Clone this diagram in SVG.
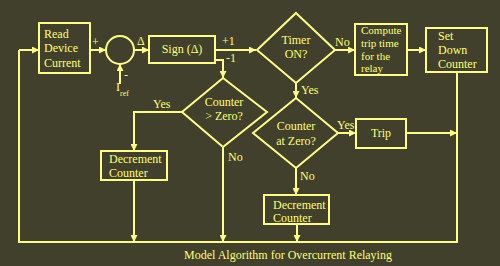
<svg xmlns="http://www.w3.org/2000/svg" width="500" height="266" viewBox="0 0 500 266">
<defs>
<marker id="ah" viewBox="0 0 10 10" refX="10" refY="5" markerWidth="7" markerHeight="7" markerUnits="userSpaceOnUse" orient="auto">
<path d="M0,0 L10,5 L0,10 z" fill="#ffff88"/>
</marker>
<style>
.bx{fill:none;stroke:#ffff88;stroke-width:2}
.ln{fill:none;stroke:#ffff88;stroke-width:2}
.ar{fill:none;stroke:#ffff88;stroke-width:2;marker-end:url(#ah)}
.t{font-family:'Liberation Serif','Times New Roman',serif;font-size:12px;fill:#ffff70}
.m{text-anchor:middle}
.s{font-size:11px}
</style>
</defs>
<rect width="500" height="266" fill="#40402c"/>
<g id="connectors">
<path class="ar" d="M90,50 L106,50"/>
<path class="ar" d="M134,50 L149,50"/>
<path class="ar" d="M120,84 L120,64"/>
<path class="ar" d="M215,50 L256,50"/>
<path class="ar" d="M215,60 L223,60 L223,78"/>
<path class="ar" d="M335,50 L355,50"/>
<path class="ar" d="M407,50 L426,50"/>
<path class="ar" d="M296,83 L296,98"/>
<path class="ar" d="M182,112 L134,112 L134,151"/>
<path class="ar" d="M134,180 L134,242"/>
<path class="ar" d="M223,147 L223,242"/>
<path class="ar" d="M338,133 L356,133"/>
<path class="ar" d="M406,133 L457,133"/>
<path class="ar" d="M296,168 L296,195"/>
<path class="ar" d="M297,224 L297,242"/>
<path class="ln" d="M457,72 L457,242 L19,242 L19,50"/>
<path class="ar" d="M19,50 L39,50"/>
</g>
<g class="t" font-family="Liberation Serif, serif">
<g id="read">
<rect class="bx" x="39" y="23" width="51" height="50"/>
<text x="44" y="38">Read</text>
<text x="44" y="52">Device</text>
<text x="44" y="67">Current</text>
</g>
<g id="sum">
<circle class="bx" cx="120" cy="50" r="14"/>
<text x="92" y="46">+</text>
<text x="137" y="45">Δ</text>
<text x="124" y="79">-</text>
<text x="116" y="91">I</text>
<text x="120" y="96" font-size="8">ref</text>
</g>
<g id="sign">
<rect class="bx" x="149" y="36" width="66" height="27"/>
<text class="m" x="182" y="53">Sign (Δ)</text>
<text x="222" y="45">+1</text>
<text x="226" y="62">-1</text>
</g>
<g id="timer">
<path class="bx" d="M296,13 L335,50 L296,83 L257,50 z"/>
<text class="m" x="296" y="44">Timer</text>
<text class="m" x="296" y="58">ON?</text>
<text x="335" y="46">No</text>
<text x="301" y="94">Yes</text>
</g>
<g id="compute">
<rect class="bx" x="355" y="24" width="52" height="51"/>
<text class="s" x="361" y="34">Compute</text>
<text class="s" x="361" y="47">trip time</text>
<text class="s" x="361" y="60">for the</text>
<text class="s" x="361" y="72">relay</text>
</g>
<g id="setdown">
<rect class="bx" x="426" y="28" width="61" height="44"/>
<text x="438" y="40">Set</text>
<text x="438" y="54">Down</text>
<text x="438" y="68">Counter</text>
</g>
<g id="gtzero">
<path class="bx" d="M223,78 L267,112 L223,147 L182,112 z"/>
<text class="m" x="224" y="106">Counter</text>
<text class="m" x="224" y="120">&gt; Zero?</text>
<text x="153" y="108">Yes</text>
<text x="228" y="161">No</text>
</g>
<g id="dec1">
<rect class="bx" x="101" y="151" width="66" height="29"/>
<text x="109" y="163">Decrement</text>
<text x="109" y="177">Counter</text>
</g>
<g id="atzero">
<path class="bx" d="M296,98 L338,133 L296,168 L253,133 z"/>
<text class="m" x="296" y="130">Counter</text>
<text class="m" x="296" y="145">at Zero?</text>
<text x="337" y="129">Yes</text>
<text x="300" y="180">No</text>
</g>
<g id="trip">
<rect class="bx" x="356" y="119" width="50" height="29"/>
<text class="m" x="381" y="137">Trip</text>
</g>
<g id="dec2">
<rect class="bx" x="264" y="195" width="65" height="29"/>
<text x="273" y="209">Decrement</text>
<text x="273" y="222">Counter</text>
</g>
<text x="184" y="259">Model Algorithm for Overcurrent Relaying</text>
</g>
</svg>
